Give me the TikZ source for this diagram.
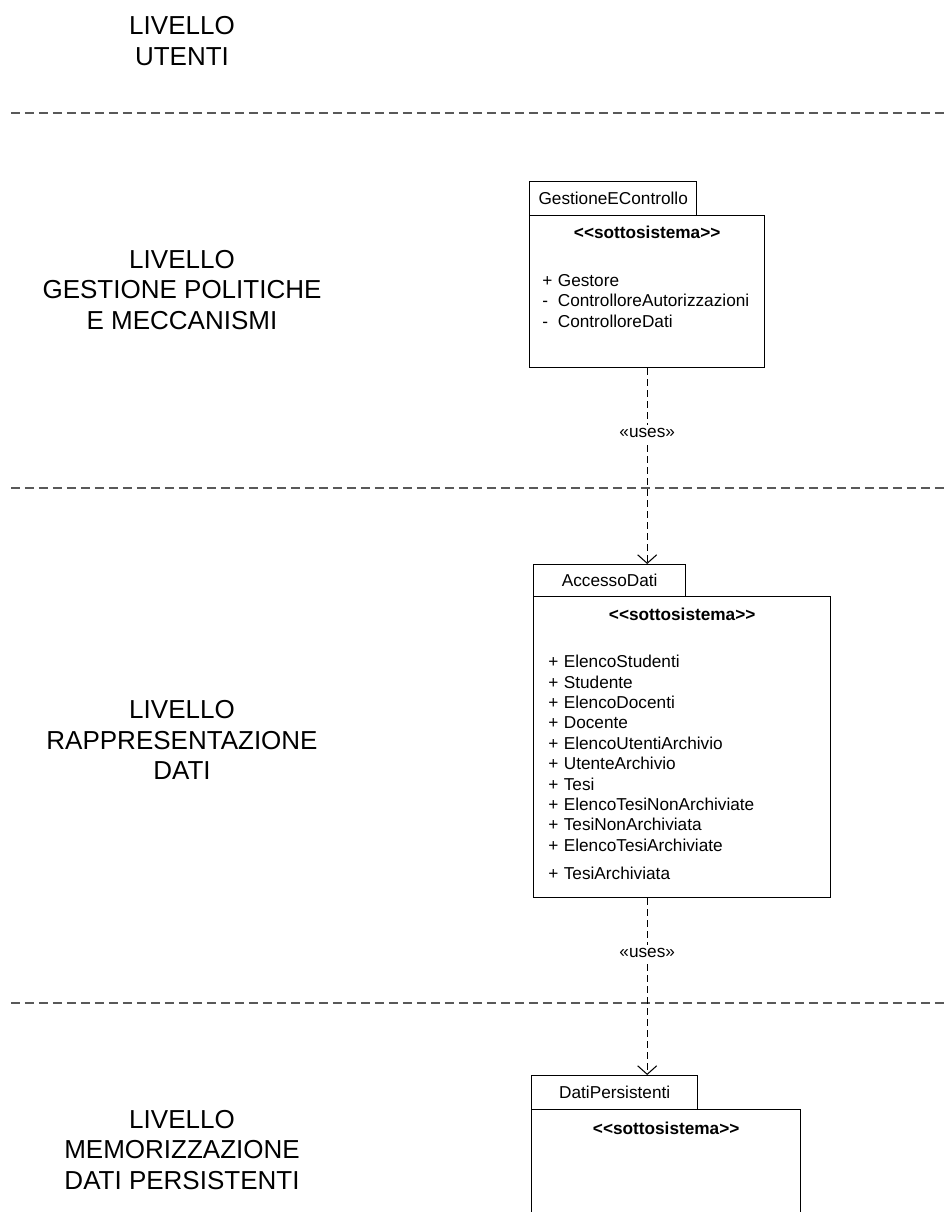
\documentclass[tikz,border=0pt]{standalone}
\usepackage{fontspec}
\setmainfont{Liberation Sans}
\usetikzlibrary{arrows.meta,calc}
\newcommand{\membro}[2]{\makebox[0.31cm][l]{#1}#2}
\newcommand{\stereotipo}{<\kern0pt<sottosistema>\kern0pt>}

\begin{document}
\begin{tikzpicture}[x=0.02cm,y=-0.02cm,
  font=\fontsize{9.8}{11.6}\selectfont,
  livello/.style={font=\fontsize{14.8}{17.2}\selectfont,align=center},
  tabbox/.style={draw,line width=.8pt,inner sep=0pt,anchor=north west,minimum height=.68cm},
  pkgbox/.style={draw,line width=.8pt,inner sep=0pt,anchor=north west},
  stereo/.style={font=\fontsize{9.8}{11.6}\selectfont\bfseries,anchor=base,inner sep=0pt},
  members/.style={align=left,anchor=north west,inner sep=0pt},
  levelsep/.style={draw=black!65,line width=.6pt,dash pattern=on .18cm off .1cm},
  uses/.style={-{Straight Barb[length=1.7mm,width=3.8mm]},line width=.6pt,dash pattern=on .14cm off .08cm},
  lbl/.style={fill=white,inner sep=2pt}
]
\clip (0,0) rectangle (945,1212);

% livelli
\node[livello] (liv1) at (182,41) {LIVELLO\\UTENTI};
\node[livello] (liv2) at (182,290) {LIVELLO\\GESTIONE POLITICHE\\E MECCANISMI};
\node[livello] (liv3) at (182,740) {LIVELLO\\RAPPRESENTAZIONE\\DATI};
\node[livello] (liv4) at (182,1150) {LIVELLO\\MEMORIZZAZIONE\\DATI PERSISTENTI};

\draw[levelsep] (11,113) -- (945,113);
\draw[levelsep] (11,488) -- (945,488);
\draw[levelsep] (11,1003) -- (945,1003);

% GestioneEControllo
\node[tabbox,minimum width=3.34cm] (gect) at (529,181) {GestioneEControllo};
\node[pkgbox,minimum width=4.70cm,minimum height=3.04cm] (gec) at (529,215) {};
\node[stereo] (gecs) at ($(gec.north)+(0,24)$) {\stereotipo};
\node[members] (gecm) at ($(gec.north west)+(13,59)$)
 {\membro{+}{Gestore}\\\membro{-}{ControlloreAutorizzazioni}\\\membro{-}{ControlloreDati}};

% AccessoDati
\node[tabbox,minimum width=3.04cm,minimum height=.64cm] (adt) at (533,564) {AccessoDati};
\node[pkgbox,minimum width=5.94cm,minimum height=6.02cm] (ad) at (533,596) {};
\node[stereo] (ads) at ($(ad.north)+(0,24)$) {\stereotipo};
\node[members] (adm) at ($(ad.north west)+(15,59)$)
 {\membro{+}{ElencoStudenti}\\\membro{+}{Studente}\\\membro{+}{ElencoDocenti}\\
  \membro{+}{Docente}\\\membro{+}{ElencoUtentiArchivio}\\\membro{+}{UtenteArchivio}\\
  \membro{+}{Tesi}\\\membro{+}{ElencoTesiNonArchiviate}\\\membro{+}{TesiNonArchiviata}\\
  \membro{+}{ElencoTesiArchiviate}\\[4.3pt]\membro{+}{TesiArchiviata}};

% DatiPersistenti
\node[tabbox,minimum width=3.32cm] (dpt) at (531,1075) {DatiPersistenti};
\node[pkgbox,minimum width=5.38cm,minimum height=2.8cm] (dp) at (531,1109) {};
\node[stereo] (dps) at ($(dp.north)+(0,25)$) {\stereotipo};

\draw[uses] (gec.south) -- (gec.south |- adt.north) node[lbl,pos=.33] {«uses»};
\draw[uses] (gec.south |- ad.south) -- (gec.south |- dpt.north) node[lbl,pos=.31] {«uses»};
\end{tikzpicture}
\end{document}
